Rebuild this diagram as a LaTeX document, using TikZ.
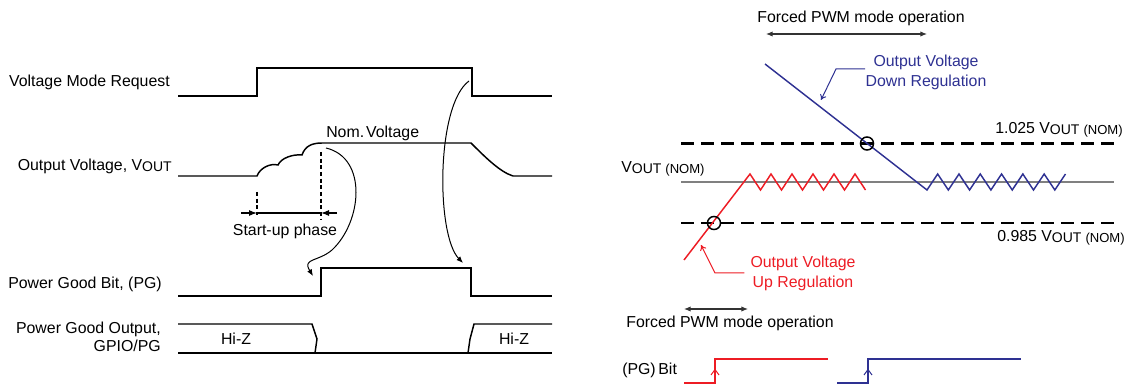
\documentclass[tikz,border=0pt]{standalone}
\usepackage{fontspec}
\setmainfont{Liberation Sans}
\usetikzlibrary{arrows.meta}
\definecolor{rred}{RGB}{237,28,36}
\definecolor{bblue}{RGB}{46,49,146}
\newcommand\vsubx[1]{V{\fontsize{10.5}{11}\selectfont\raisebox{-1pt}{#1}}}
\newcommand\voutnom{V{\fontsize{10.5}{11}\selectfont\raisebox{-1pt}{OUT\hspace{3pt}{\fontsize{9.8}{10}\selectfont(NOM)}}}}
\begin{document}
\begin{tikzpicture}[x=0.75pt,y=-0.75pt,
  sig/.style={line width=1.1pt},
  lbl/.style={font=\fontsize{11.9}{15}\selectfont, inner sep=0pt},
  thinline/.style={line width=0.75pt},
  tipa/.style={-{Latex[length=5pt,width=4pt]}},
  dimtip/.style={-{Latex[length=6pt,width=4.5pt]}},
  dbl/.style={{Latex[length=5pt,width=4pt]}-{Latex[length=5pt,width=4pt]}, line width=0.8pt, black!80},
  vdash/.style={line width=1.1pt, dash pattern=on 3pt off 2pt},
  limit/.style={line width=2.2pt, dash pattern=on 9.5pt off 5.5pt},
  ring/.style={line width=1.1pt}]
\useasboundingbox (0,0) rectangle (1130,384);

% ---------------- left timing diagram ----------------
\node[lbl,anchor=east] (vmr) at (170,82) {Voltage Mode Request};
\draw[sig] (178,96) -- (257,96) -- (257,68) -- (472,68) -- (472,96) -- (552,96);

\node[lbl,anchor=east] (ov) at (172,166) {Output Voltage, \vsubx{OUT}};
\draw[sig] (178,176) -- (257,176)
  .. controls (260,168) and (270,163) .. (278,165)
  .. controls (281,158) and (293,154) .. (302,155)
  .. controls (305,146) and (312,143) .. (322,143)
  -- (471,143) .. controls (485,157) and (500,172) .. (513,176) -- (552,176);

\draw[vdash] (257,192) -- (257,215);
\draw[vdash] (321,152) -- (321,220);
\coordinate (d1) at (257,213);
\coordinate (d2) at (321,213);
\draw[line width=0.8pt] (d1) -- (d2);
\draw[line width=0.8pt,dimtip] (241,213) -- (d1);
\draw[line width=0.8pt,dimtip] (337,213) -- (d2);
\node[lbl] (sp) at (285,231) {Start-up phase};
\node[lbl,anchor=west] (nv) at (326,133) {Nom.\hspace{1.5pt}Voltage};

\coordinate (a1s) at (326,148);
\coordinate (a1e) at (313,276);
\draw[thinline,tipa] (a1s) .. controls (368,158) and (362,222) .. (332,250)
  .. controls (318,262) and (302,258) .. (a1e);
\coordinate (a2s) at (469,81);
\coordinate (a2e) at (463,263);
\draw[thinline,tipa] (a2s) .. controls (436,105) and (436,235) .. (a2e);

\node[lbl,anchor=east] (pgb) at (162,284) {Power Good Bit, (PG)};
\draw[sig] (178,296) -- (321,296) -- (321,268) -- (471,268) -- (471,296) -- (552,296);

\node[lbl,anchor=east,align=right,font=\fontsize{11.9}{13.5}\selectfont] (pgo) at (161,337) {Power Good Output,\\GPIO/PG};
\draw[sig] (178,324) -- (312,324) -- (317,339) -- (315,353);
\draw[sig] (178,353) -- (552,353);
\draw[sig] (468,353) -- (470,339) -- (474,324) -- (552,324);
\node[lbl] (hz1) at (236,339) {Hi-Z};
\node[lbl] (hz2) at (514,339) {Hi-Z};

% ---------------- right diagram ----------------
\node[lbl] (fpwm1) at (861,18) {Forced PWM mode operation};
\draw[dbl] (766,34) -- (927,34);

\draw[line width=1.1pt, black!50] (681,182) -- (1114,182);
\draw[limit] (681,143.5) -- (1114,143.5);
\draw[limit] (681,223) -- (1114,223);

\draw[rred,sig,line join=miter] (684,260) \foreach \k in {0,...,5}{ -- ({750+21*\k},174) -- ({760.5+21*\k},190)};
\draw[bblue,sig,line join=miter] (765,64) \foreach \k in {0,...,6}{ -- ({927+21.3*\k},190) -- ({937.65+21.3*\k},174)};

\draw[ring] (867,143.5) circle[radius=4.9pt];
\draw[ring] (714,223) circle[radius=4.9pt];

\node[lbl,anchor=west] (hi) at (995,130) {1.025 \voutnom};
\node[lbl,anchor=west] (lo) at (997,238) {0.985 \voutnom};
\node[lbl,anchor=west] (nom) at (621,169) {\voutnom};

\node[lbl,rred,align=center] (upl) at (803,273) {Output Voltage\\Up Regulation};
\draw[thinline,rred,-{To[length=4pt,width=5pt]}] ([xshift=-4.5pt]upl.west) -- (715,273) -- (701,245);
\node[lbl,bblue,align=center] (dnl) at (926,72) {Output Voltage\\Down Regulation};
\coordinate (bp) at (865,69);
\draw[thinline,bblue,-{To[length=4pt,width=5pt]}] (bp) -- (836,69) -- (821,100);

\node[lbl] (fpwm2) at (730,323.5) {Forced PWM mode operation};
\draw[dbl] (684,309) -- (748,309);

\node[lbl,anchor=west] (pgbit) at (622,370) {(PG)\,Bit};
\draw[rred,line width=1.3pt] (684,383) -- (715,383) -- (715,359) -- (828,359);
\draw[rred,line width=0.75pt] (711,375) -- (715,369.5) -- (719,375);
\draw[bblue,line width=1.3pt] (837,383) -- (868,383) -- (868,359) -- (1021,359);
\draw[bblue,line width=0.75pt] (864,375) -- (868,369.5) -- (872,375);
\end{tikzpicture}
\end{document}
